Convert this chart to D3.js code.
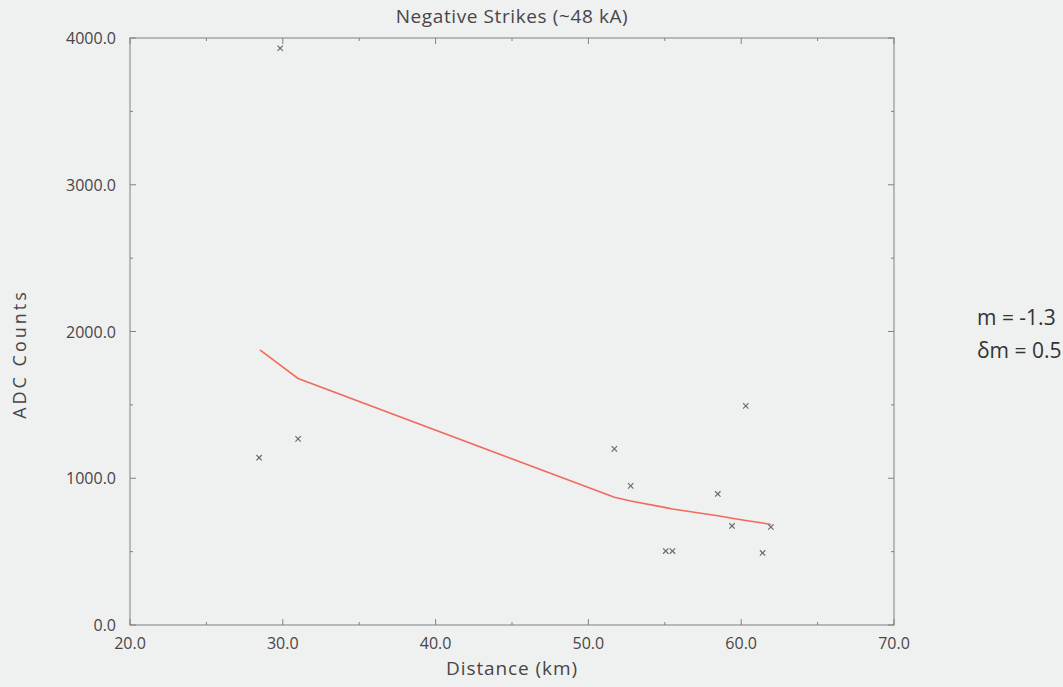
<!DOCTYPE html>
<html><head><meta charset="utf-8">
<script src="https://cdn.jsdelivr.net/npm/d3@7"></script>
<style>
html,body{margin:0;padding:0;background:#eef1ef;}
svg{display:block;}
text{font-family:"Open Sans","Noto Sans",sans-serif;fill:#4a4448;}
</style></head><body>
<svg id="c" width="1063" height="687"></svg>
<script>
const title = "Negative Strikes (~48 kA)";
const xLabel = "Distance (km)";
const yLabel = "ADC Counts";
const xTicks = [20, 30, 40, 50, 60, 70];
const yTicks = [0, 1000, 2000, 3000, 4000];
const distance = [28.45, 29.83, 31.0, 51.7, 52.77, 55.06, 55.5, 58.47, 59.4, 60.3, 61.4, 61.94];
const adc      = [1140, 3930, 1268, 1200, 948, 504, 504, 893, 675, 1493, 491, 668];
const fitX = [28.5, 31.0, 51.7, 52.77, 55.06, 55.5, 58.47, 59.4, 60.3, 61.4, 61.94];
const fitY = [1875, 1680, 870, 845, 800, 790, 745, 728, 712, 695, 685];
const annot = ["m = -1.3", "\u03B4m = 0.5"];

const svg = d3.select("#c");
const L = 130, R = 894, T = 38, B = 625;
const x = d3.scaleLinear().domain([20, 70]).range([L, R]);
const y = d3.scaleLinear().domain([0, 4000]).range([B, T]);
const frame = "#808080";

svg.append("rect").attr("x", L).attr("y", T).attr("width", R - L).attr("height", B - T)
  .attr("fill", "none").attr("stroke", frame).attr("stroke-width", 1);

// ticks (inward) on all four sides
const xMinor = d3.range(20, 70.01, 5);
const yMinor = d3.range(0, 4000.1, 500);
const tk = svg.append("g").attr("stroke", frame).attr("stroke-width", 1);
xMinor.forEach(v => {
  const len = v % 10 === 0 ? 6 : 3;
  tk.append("line").attr("x1", x(v)).attr("x2", x(v)).attr("y1", B).attr("y2", B - len);
  tk.append("line").attr("x1", x(v)).attr("x2", x(v)).attr("y1", T).attr("y2", T + len);
});
yMinor.forEach(v => {
  const len = v % 1000 === 0 ? 6 : 3;
  tk.append("line").attr("y1", y(v)).attr("y2", y(v)).attr("x1", L).attr("x2", L + len);
  tk.append("line").attr("y1", y(v)).attr("y2", y(v)).attr("x1", R).attr("x2", R - len);
});

// tick labels
svg.append("g").selectAll("text").data(xTicks).join("text")
  .attr("x", d => x(d)).attr("y", B + 24).attr("text-anchor", "middle")
  .attr("font-size", 16).text(d => d.toFixed(1));
svg.append("g").selectAll("text").data(yTicks).join("text")
  .attr("x", L - 14).attr("y", d => y(d) + 6).attr("text-anchor", "end")
  .attr("font-size", 16).text(d => d.toFixed(1));

// titles
svg.append("text").attr("x", 512).attr("y", 23).attr("text-anchor", "middle")
  .attr("font-size", 19).attr("letter-spacing", 0.6).text(title);
svg.append("text").attr("x", 512).attr("y", 675).attr("text-anchor", "middle")
  .attr("font-size", 19).attr("letter-spacing", 0.9).text(xLabel);
svg.append("text").attr("transform", "translate(26,354) rotate(-90)").attr("text-anchor", "middle")
  .attr("font-size", 18).attr("letter-spacing", 3).text(yLabel);

// fit line
const line = d3.line().x(d => x(d[0])).y(d => y(d[1]));
svg.append("path").datum(fitX.map((v, i) => [v, fitY[i]]))
  .attr("d", line).attr("fill", "none").attr("stroke", "#f26a5c").attr("stroke-width", 1.6);

// points as small x marks
const pts = svg.append("g").attr("stroke", "#666").attr("stroke-width", 1.1);
distance.forEach((d, i) => {
  const cx = x(d), cy = y(adc[i]), s = 2.7;
  pts.append("line").attr("x1", cx - s).attr("y1", cy - s).attr("x2", cx + s).attr("y2", cy + s);
  pts.append("line").attr("x1", cx - s).attr("y1", cy + s).attr("x2", cx + s).attr("y2", cy - s);
});

// annotation
svg.append("g").selectAll("text").data(annot).join("text")
  .attr("x", 977).attr("y", (d, i) => 325 + i * 33).attr("font-size", 21)
  .style("fill", "#333").text(d => d);
</script>
</body></html>
